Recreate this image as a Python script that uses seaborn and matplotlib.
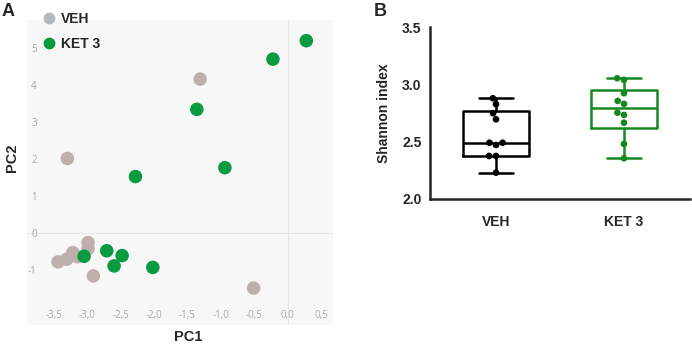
import numpy as np
import pandas as pd
import seaborn as sns
import matplotlib.pyplot as plt
from matplotlib.lines import Line2D

# panel A: PCA scores
veh_pc1 = [-1.31, -3.30, -0.51, -2.91, -3.44, -3.31, -3.22, -2.99, -2.99, -3.15]
veh_pc2 = [4.17, 2.02, -1.49, -1.16, -0.78, -0.71, -0.53, -0.26, -0.42, -0.64]
ket_pc1 = [0.28, -0.22, -1.36, -0.94, -2.28, -3.05, -2.71, -2.48, -2.60, -2.02]
ket_pc2 = [5.21, 4.71, 3.35, 1.77, 1.53, -0.63, -0.48, -0.61, -0.89, -0.93]
pc1_ticks = [-3.5, -3.0, -2.5, -2.0, -1.5, -1.0, -0.5, 0.0, 0.5]
pc2_ticks = [-1, 0, 1, 2, 3, 4, 5]

# panel B: Shannon index
groups = ["VEH", "KET 3"]
veh_shannon = [2.879, 2.827, 2.748, 2.695, 2.490, 2.470, 2.490, 2.374, 2.374, 2.228]
ket_shannon = [3.040, 3.054, 2.923, 2.856, 2.830, 2.753, 2.733, 2.665, 2.479, 2.354]
shannon_ticks = [2.0, 2.5, 3.0, 3.5]

gray_pt = "#bdb0ac"
green_pt = "#0a9b41"
green_box = "#15891f"

sns.set_style("white")
plt.rcParams['font.family'] = ['Liberation Sans', 'DejaVu Sans']

fig = plt.figure(figsize=(6.92, 3.45), dpi=100)

# ---- panel A ----
axA = fig.add_axes([27 / 692, 1 - 325 / 345, 306 / 692, 305 / 345])
axA.set_facecolor("#f7f7f7")
pca_df = pd.DataFrame({
    "PC1": veh_pc1 + ket_pc1,
    "PC2": veh_pc2 + ket_pc2,
    "group": ["VEH"] * len(veh_pc1) + ["KET 3"] * len(ket_pc1),
})
axA.axhline(0, color="#e6e6e6", lw=0.8, zorder=0)
axA.axvline(0, color="#e6e6e6", lw=0.8, zorder=0)
sns.scatterplot(data=pca_df, x="PC1", y="PC2", hue="group",
                palette={"VEH": gray_pt, "KET 3": green_pt},
                s=95, linewidth=0, alpha=1, legend=False, ax=axA)
axA.set_xlim(-3.905, 0.68)
axA.set_ylim(-2.49, 5.77)
axA.set_xticks(pc1_ticks)
axA.set_xticklabels([f"{t:.1f}".replace(".", ",") for t in pc1_ticks])
axA.set_yticks(pc2_ticks)
axA.set_yticklabels([str(t) for t in pc2_ticks])
axA.tick_params(axis="x", length=0, pad=-11, labelcolor="#a9a9a9", labelsize=7)
axA.tick_params(axis="y", length=0, pad=-7, labelcolor="#a9a9a9", labelsize=7)
for lab in axA.get_xticklabels() + axA.get_yticklabels():
    lab.set_family(["Open Sans", "DejaVu Sans"])
for sp in axA.spines.values():
    sp.set_visible(False)
axA.set_xlabel("")
axA.set_ylabel("")
fig.text(188 / 692, 1 - 337 / 345, "PC1", ha="center", va="center",
         fontsize=10.5, fontweight="bold")
fig.text(12 / 692, 1 - 158 / 345, "PC2", ha="center", va="center",
         rotation=90, fontsize=10.5, fontweight="bold")
fig.text(8 / 692, 1 - 12 / 345, "A", ha="center", va="center",
         fontsize=13, fontweight="bold")

handles = [Line2D([], [], marker="o", ls="", markersize=7.5, color="#b5b8ba"),
           Line2D([], [], marker="o", ls="", markersize=7.5, color=green_pt)]
axA.legend(handles, groups, loc="upper left", bbox_to_anchor=(36 / 692, 1 - 5 / 345),
           bbox_transform=fig.transFigure, frameon=False, borderpad=0,
           handlelength=0.8, handletextpad=0.5, labelspacing=0.8,
           prop={"weight": "bold", "size": 10})

# ---- panel B ----
axB = fig.add_axes([430 / 692, 1 - 198.7 / 345, 260 / 692, 171.4 / 345])
shannon_df = pd.DataFrame({
    "group": ["VEH"] * len(veh_shannon) + ["KET 3"] * len(ket_shannon),
    "shannon": veh_shannon + ket_shannon,
})
sns.swarmplot(data=shannon_df, x="group", y="shannon", hue="group", order=groups,
              palette={"VEH": "black", "KET 3": green_box}, size=4.8,
              legend=False, zorder=3, ax=axB)

# min-to-max whiskers, quartiles as in GraphPad
for pos, vals, col in [(0, veh_shannon, "black"), (1, ket_shannon, green_box)]:
    q1, med, q3 = np.percentile(vals, [25, 50, 75], method="weibull")
    stats = [dict(med=med, q1=q1, q3=q3, whislo=min(vals), whishi=max(vals), fliers=[])]
    lp = dict(color=col, lw=1.8)
    axB.bxp(stats, positions=[pos], widths=0.52, showfliers=False, manage_ticks=False,
            boxprops=lp, whiskerprops=lp, capprops=lp, medianprops=lp)

axB.set_xlim(-0.516, 1.516)
axB.set_ylim(2.0, 3.5)
axB.set_yticks(shannon_ticks)
axB.set_yticklabels([f"{t:.1f}" for t in shannon_ticks])
axB.set_xticks([0, 1])
axB.set_xticklabels(groups)
sns.despine(ax=axB)
for sp in ["left", "bottom"]:
    axB.spines[sp].set_linewidth(1.8)
axB.tick_params(axis="y", length=4, width=1.8, pad=2, labelsize=10)
axB.tick_params(axis="x", length=0, pad=12, labelsize=10)
for lab in axB.get_xticklabels() + axB.get_yticklabels():
    lab.set_fontweight("bold")
axB.set_xlabel("")
axB.set_ylabel("Shannon index", fontsize=10, fontweight="bold", labelpad=8)
fig.text(380 / 692, 1 - 11 / 345, "B", ha="center", va="center",
         fontsize=13, fontweight="bold")

fig.savefig("out.png", dpi=100)
plt.close(fig)
